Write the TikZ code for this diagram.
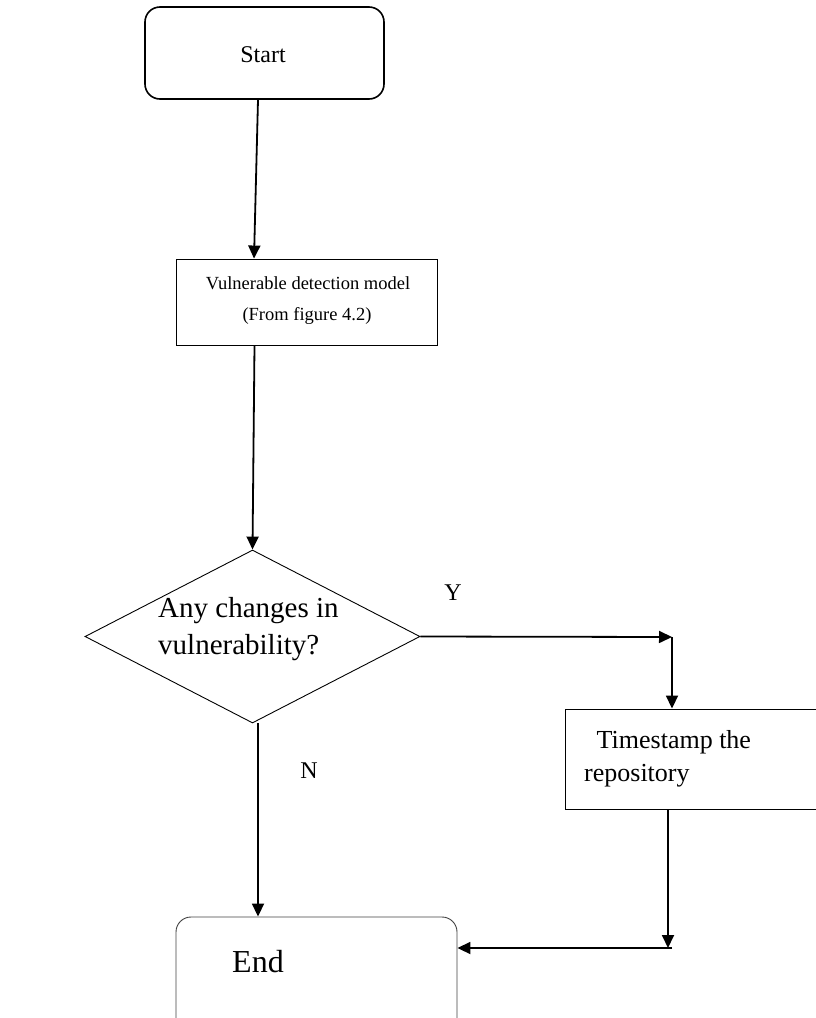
\documentclass[tikz,border=0pt]{standalone}
\usepackage{fontspec}
\setmainfont{Liberation Serif}
\usetikzlibrary{shapes.geometric,arrows.meta}
\begin{document}
\begin{tikzpicture}[x=1pt,y=-1pt,
  every node/.style={font=\fontsize{24}{33}\selectfont, inner sep=0pt},
  arr/.style={line width=1.8pt, -{Triangle[length=13pt,width=12pt]}},
  startbox/.style={draw, line width=1.6pt, rounded corners=15pt, minimum width=239pt, minimum height=92pt},
  procbox/.style={draw, line width=0.9pt},
  decbox/.style={draw, line width=0.9pt, shape=diamond, minimum width=335pt, minimum height=173pt},
  endbox/.style={draw, draw=black!75, line width=0.9pt, rounded corners=15pt},
  vfont/.style={font=\fontsize{18.5}{33}\selectfont},
  dfont/.style={font=\fontsize{29}{36}\selectfont},
  tfont/.style={font=\fontsize{26}{34}\selectfont}
]
\useasboundingbox (0,0) rectangle (816,1018);
\clip (0,0) rectangle (816,1018);

\node[startbox] (start) at (264.5,53) {};
\node[font=\fontsize{24}{30}\selectfont] (st) at (263,55) {Start};
\node[procbox, minimum width=261pt, minimum height=86pt] (vuln) at (306.5,302) {};
\node[vfont] (vt1) at (308,283) {Vulnerable detection model};
\node[vfont] (vt2) at (307,316) {(From figure 4.2)};
\node[decbox] (dia) at (252.5,636.5) {};
\node[dfont, anchor=west] (dt1) at (158,611) {Any changes in};
\node[dfont, anchor=west] (dt2) at (158,648) {vulnerability?};
\node[procbox, minimum width=270pt, minimum height=100pt] (ts) at (700,759) {};
\node[tfont, anchor=west] (tt1) at (590,742) {\ Timestamp the};
\node[tfont, anchor=west] (tt2) at (584,776) {repository};
\node[endbox, minimum width=281pt, minimum height=140pt] (end) at (316.5,987) {};
\node[font=\fontsize{32}{36}\selectfont] (et) at (258,962) {End};
\node (ylab) at (453,593) {Y};
\node (nlab) at (309,771) {N};

\coordinate (c1) at (672,637);
\coordinate (c2) at (672,948);

\draw[arr] ([xshift=-6.5pt]start.south) -- ([xshift=-52.5pt]vuln.north);
\draw[arr] ([xshift=-52pt]vuln.south) -- (dia.north);
\draw[arr] (dia.east) -- (c1);
\draw[arr] (c1) -- (c1 |- ts.north);
\draw[arr] (ts.south -| 668,0) -- (668,948);
\draw[arr] (c2) -- (c2 -| end.east);
\draw[arr] ([xshift=5.5pt]dia.south) -- ([xshift=5.5pt]dia.south |- end.north);
\end{tikzpicture}
\end{document}
